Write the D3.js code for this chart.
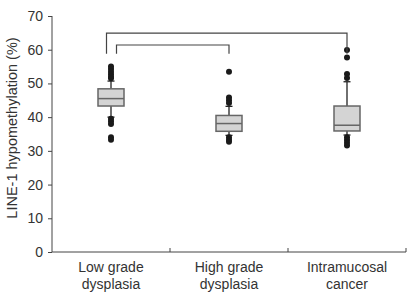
<!DOCTYPE html>
<html>
<head>
<meta charset="utf-8">
<script src="https://cdn.jsdelivr.net/npm/d3@7"></script>
<style>
  body { margin: 0; background: #fff; }
  svg { font-family: Arial, "Liberation Sans", sans-serif; }
</style>
</head>
<body>
<div class="boxchart"></div>
<script>
// data
const groups = ["Low grade|dysplasia", "High grade|dysplasia", "Intramucosal|cancer"];
const q1 = [43.3, 35.8, 35.9];
const median = [45.5, 38.1, 37.6];
const q3 = [48.4, 40.5, 43.3];
const whiskerLow = [40.0, 34.6, 34.7];
const whiskerHigh = [50.7, 43.2, 50.5];
const outliers = [
  [55, 54.3, 53.5, 52.7, 52, 51.5, 39.5, 38.8, 38, 34, 33.3],
  [53.5, 45.8, 45, 44.2, 34, 33.3, 32.7],
  [59.9, 57.7, 52.8, 51.6, 34, 33.2, 32.4, 31.6]
];
const yTicks = [0, 10, 20, 30, 40, 50, 60, 70];
// brackets: [from group, to group, top value, leg end value, offset of left leg]
const brackets = [
  [0, 2, 64.9, 58.8, -4.5],
  [0, 1, 61.4, 58.8, 5.5]
];

const margin = {top: 16, right: 11, bottom: 45, left: 52};
const width = 417 - margin.left - margin.right;
const height = 297 - margin.top - margin.bottom;

var svg = d3.select(".boxchart")
    .append("svg")
    .attr("width", 417)
    .attr("height", 297)
    .append("g")
    .attr("transform", "translate(" + margin.left + "," + margin.top + ")");

var x = d3.scaleBand().domain(groups).range([0, width]);
var y = d3.scaleLinear().domain([0, 70]).range([height, 0]);

// axes
var yAxis = svg.append("g")
    .call(d3.axisLeft(y).tickValues(yTicks).tickSize(4).tickPadding(5));
yAxis.selectAll("text").attr("font-size", 14).attr("fill", "#333").style("font-family", "Arial, 'Liberation Sans', sans-serif");
yAxis.selectAll("line, path").attr("stroke", "#444");
yAxis.select(".domain").attr("d", "M0," + y(70) + "V" + height);

var xAxis = svg.append("g")
    .attr("transform", "translate(0," + height + ")")
    .call(d3.axisBottom(x).tickSize(0).tickFormat(""));
xAxis.select(".domain").attr("stroke", "#444").attr("d", "M0,0H" + width);
xAxis.selectAll(".tick").remove();

// boundary ticks
svg.append("g").selectAll("line")
    .data(groups)
    .enter().append("line")
    .attr("x1", d => x(d) + x.bandwidth())
    .attr("x2", d => x(d) + x.bandwidth())
    .attr("y1", height)
    .attr("y2", height - 4)
    .attr("stroke", "#444");

// category labels
var lab = svg.append("g").selectAll("text")
    .data(groups)
    .enter().append("text")
    .attr("x", d => x(d) + x.bandwidth() / 2)
    .attr("y", height + 20)
    .attr("text-anchor", "middle")
    .attr("font-size", 14)
    .attr("fill", "#333");
lab.each(function(d) {
    var parts = d.split("|");
    d3.select(this).selectAll("tspan")
        .data(parts)
        .enter().append("tspan")
        .attr("x", x(d) + x.bandwidth() / 2)
        .attr("dy", (p, i) => i == 0 ? 0 : 17)
        .text(p => p);
});

// y label
svg.append("text")
    .attr("transform", "translate(" + (12 - margin.left) + "," + (128 - margin.top) + ") rotate(-90)")
    .attr("text-anchor", "middle")
    .attr("dy", "0.35em")
    .attr("font-size", 14.5)
    .attr("fill", "#333")
    .text("LINE-1 hypomethylation (%)");

const boxW = 26;
const capW = 7;

groups.forEach(function(g, i) {
    var cx = x(g) + x.bandwidth() / 2;
    var gg = svg.append("g");
    // whiskers
    gg.append("line")
        .attr("x1", cx).attr("x2", cx)
        .attr("y1", y(whiskerHigh[i])).attr("y2", y(q3[i]))
        .attr("stroke", "#222").attr("stroke-width", 1.3);
    gg.append("line")
        .attr("x1", cx).attr("x2", cx)
        .attr("y1", y(whiskerLow[i])).attr("y2", y(q1[i]))
        .attr("stroke", "#222").attr("stroke-width", 1.3);
    [whiskerHigh[i], whiskerLow[i]].forEach(function(v) {
        gg.append("line")
            .attr("x1", cx - capW / 2).attr("x2", cx + capW / 2)
            .attr("y1", y(v)).attr("y2", y(v))
            .attr("stroke", "#222").attr("stroke-width", 1.3);
    });
    // box
    gg.append("rect")
        .attr("x", cx - boxW / 2)
        .attr("y", y(q3[i]))
        .attr("width", boxW)
        .attr("height", y(q1[i]) - y(q3[i]))
        .attr("fill", "#d4d4d4")
        .attr("stroke", "#666")
        .attr("stroke-width", 1.5);
    gg.append("line")
        .attr("x1", cx - boxW / 2).attr("x2", cx + boxW / 2)
        .attr("y1", y(median[i])).attr("y2", y(median[i]))
        .attr("stroke", "#666").attr("stroke-width", 1.5);
    // outliers
    gg.selectAll("circle")
        .data(outliers[i])
        .enter().append("circle")
        .attr("cx", cx)
        .attr("cy", d => y(d))
        .attr("r", 3)
        .attr("fill", "#1a1a1a");
});

// significance brackets
brackets.forEach(function(b) {
    var x1 = x(groups[b[0]]) + x.bandwidth() / 2 + b[4];
    var x2 = x(groups[b[1]]) + x.bandwidth() / 2;
    svg.append("path")
        .attr("d", "M" + x1 + "," + y(b[3]) + "V" + y(b[2]) + "H" + x2 + "V" + y(b[3]))
        .attr("fill", "none")
        .attr("stroke", "#444")
        .attr("stroke-width", 1.2);
});
</script>
</body>
</html>
